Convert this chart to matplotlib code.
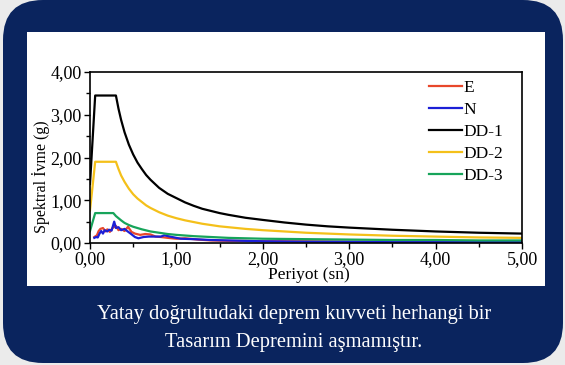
import matplotlib.pyplot as plt
from matplotlib.patches import FancyBboxPatch, Rectangle

# periods (s) and spectral accelerations (g)
t_dd = [0.0, 0.06, 0.30, 0.33, 0.36, 0.40, 0.45, 0.50, 0.55, 0.60, 0.65, 0.70, 0.80,
        0.90, 1.00, 1.10, 1.20, 1.30, 1.40, 1.50, 1.60, 1.80, 2.00, 2.25, 2.50, 2.75,
        3.00, 3.50, 4.00, 4.50, 5.00]
dd1 = [1.38, 3.45, 3.45, 3.14, 2.88, 2.59, 2.30, 2.07, 1.88, 1.73, 1.59, 1.48, 1.29,
       1.15, 1.05, 0.95, 0.87, 0.80, 0.75, 0.70, 0.66, 0.59, 0.54, 0.48, 0.43, 0.39,
       0.36, 0.31, 0.27, 0.24, 0.22]
dd2 = [0.76, 1.90, 1.90, 1.73, 1.58, 1.43, 1.27, 1.14, 1.04, 0.96, 0.88, 0.82, 0.72,
       0.64, 0.58, 0.53, 0.49, 0.45, 0.42, 0.39, 0.37, 0.33, 0.30, 0.27, 0.24, 0.22,
       0.20, 0.17, 0.15, 0.13, 0.12]
t_dd3 = [0.0, 0.06, 0.27, 0.30, 0.33, 0.36, 0.40, 0.45, 0.50, 0.60, 0.70, 0.80, 0.90,
         1.00, 1.20, 1.40, 1.60, 1.80, 2.00, 2.50, 3.00, 3.50, 4.00, 4.50, 5.00]
dd3 = [0.28, 0.70, 0.70, 0.63, 0.58, 0.53, 0.47, 0.42, 0.38, 0.32, 0.27, 0.24, 0.21,
       0.19, 0.16, 0.14, 0.12, 0.11, 0.10, 0.09, 0.08, 0.07, 0.07, 0.06, 0.06]

t_e = [0.05, 0.08, 0.10, 0.12, 0.15, 0.18, 0.20, 0.23, 0.26, 0.30, 0.33, 0.36, 0.40,
       0.44, 0.48, 0.52, 0.58, 0.64, 0.70, 0.76, 0.82, 0.90, 1.00, 1.10, 1.25, 1.40,
       1.60, 1.80, 2.00, 2.50, 3.00, 3.50, 4.00, 4.50, 5.00]
e_vals = [0.14, 0.18, 0.28, 0.33, 0.35, 0.27, 0.32, 0.26, 0.35, 0.40, 0.30, 0.33, 0.28,
          0.38, 0.26, 0.22, 0.19, 0.21, 0.20, 0.15, 0.14, 0.12, 0.10, 0.11, 0.08, 0.06,
          0.05, 0.05, 0.04, 0.04, 0.03, 0.03, 0.03, 0.02, 0.02]
t_n = [0.05, 0.07, 0.09, 0.11, 0.13, 0.15, 0.17, 0.20, 0.22, 0.25, 0.28, 0.30, 0.33,
       0.36, 0.40, 0.43, 0.47, 0.52, 0.56, 0.62, 0.68, 0.75, 0.82, 0.86, 0.95, 1.05,
       1.20, 1.40, 1.60, 1.80, 2.00, 2.50, 3.00, 3.50, 4.00, 4.50, 5.00]
n_vals = [0.12, 0.14, 0.13, 0.22, 0.28, 0.22, 0.30, 0.27, 0.31, 0.29, 0.50, 0.35, 0.37,
          0.30, 0.33, 0.28, 0.22, 0.14, 0.11, 0.14, 0.15, 0.15, 0.15, 0.18, 0.14, 0.10,
          0.09, 0.07, 0.06, 0.05, 0.04, 0.03, 0.03, 0.02, 0.02, 0.02, 0.02]

series = [("E", t_e, e_vals, "#e8472b"),
          ("N", t_n, n_vals, "#1c1fd6"),
          ("DD-1", t_dd, dd1, "#000000"),
          ("DD-2", t_dd, dd2, "#f4c01a"),
          ("DD-3", t_dd3, dd3, "#17a45a")]

x_ticks = [0, 1, 2, 3, 4, 5]
y_ticks = [0, 1, 2, 3, 4]

plt.rcParams['font.family'] = ['Liberation Serif', 'DejaVu Serif']

W, H = 565, 365
fig = plt.figure(figsize=(W / 100, H / 100), dpi=100)
fig.patch.set_facecolor("#ebebeb")

# navy card with white chart panel (pixel coordinates)
bg = fig.add_axes([0, 0, 1, 1])
bg.set_xlim(0, W)
bg.set_ylim(H, 0)
bg.axis("off")
bg.add_patch(FancyBboxPatch((3, 0), 560, 363, boxstyle="round,pad=0,rounding_size=40",
                            facecolor="#0a245e", edgecolor="none"))
bg.add_patch(Rectangle((27, 32), 518, 254, facecolor="white", edgecolor="none"))
bg.text(294, 314, "Yatay doğrultudaki deprem kuvveti herhangi bir", color="white",
        fontsize=14.8, ha="center", va="center")
bg.text(294, 342, "Tasarım Depremini aşmamıştır.", color="white",
        fontsize=14.8, ha="center", va="center")

ax = fig.add_axes([90 / W, 1 - 243 / H, 432 / W, 171 / H])
for name, t, v, c in series:
    ax.plot(t, v, color=c, lw=1.6, label=name)

ax.set_xlim(0, 5)
ax.set_ylim(0, 4)
ax.set_xticks(x_ticks)
ax.set_yticks(y_ticks)
ax.set_xticks([0.5, 1.5, 2.5, 3.5, 4.5], minor=True)
ax.set_yticks([0.5, 1.5, 2.5, 3.5], minor=True)
ax.set_xticklabels([f"{v:.2f}".replace(".", ",") for v in x_ticks], fontsize=13)
ax.set_yticklabels([f"{v:.2f}".replace(".", ",") for v in y_ticks], fontsize=13)
ax.tick_params(which="major", length=4, width=1, pad=2)
ax.tick_params(which="minor", length=3, width=1)
for s in ax.spines.values():
    s.set_linewidth(1.2)

fig.text(309 / W, 1 - 275 / H, "Periyot (sn)", fontsize=12.5, ha="center", va="center")
fig.text(41 / W, 1 - 177 / H, "Spektral İvme (g)", fontsize=11.5, ha="center",
         va="center", rotation=90)

ax.legend(loc="upper right", frameon=False, fontsize=12.5, handlelength=1.9,
          handletextpad=0.1, labelspacing=0.34, borderaxespad=0.3,
          bbox_to_anchor=(0.985, 1.025))

fig.savefig("out.png", dpi=100, facecolor=fig.get_facecolor())
